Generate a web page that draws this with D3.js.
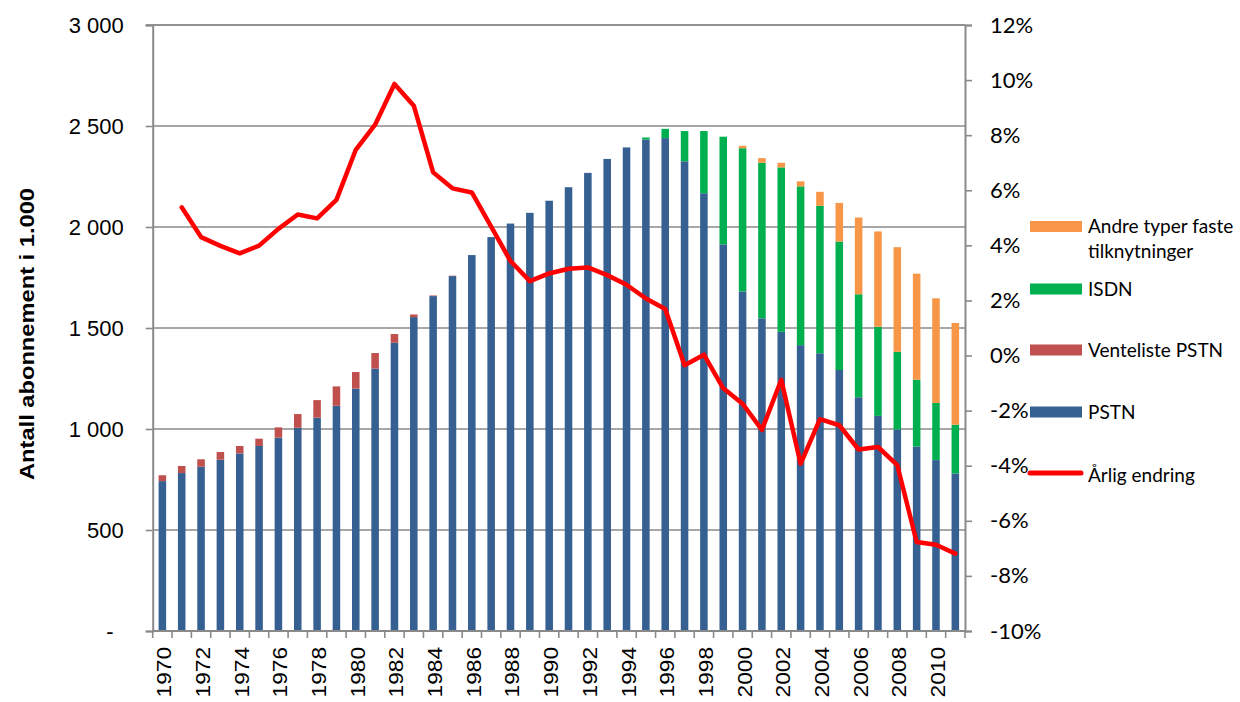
<!DOCTYPE html>
<html><head><meta charset="utf-8">
<script src="https://cdn.jsdelivr.net/npm/d3@7"></script>
<style>
html,body{margin:0;padding:0;background:#fff;}
svg{display:block;}
</style></head>
<body>
<svg id="chart" width="1240" height="702"></svg>
<script>
const years = d3.range(1970, 2012);
const pstn = [742,782,813,848,879,916,957,1006,1056,1115,1200,1299,1427,1554,1658,1757,1861,1950,2017,2070,2130,2197,2268,2337,2394,2433,2440,2325,2167,1914,1681,1548,1481,1415,1375,1292,1157,1065,998,913,846,780];
const venteliste = [29,35,37,38,37,36,51,68,87,96,82,77,43,13,3,2,0,0,0,0,0,0,0,0,0,0,0,0,0,0,0,0,0,0,0,0,0,0,0,0,0,0];
const isdn = [0,0,0,0,0,0,0,0,0,0,0,0,0,0,0,0,0,0,0,0,0,0,0,0,0,10,46,150,308,533,709,770,814,786,730,636,510,441,384,331,283,241];
const andre = [0,0,0,0,0,0,0,0,0,0,0,0,0,0,0,0,0,0,0,0,0,0,0,0,0,0,0,0,0,0,12,23,23,25,69,191,380,472,518,525,518,504];
const change = [null,5.38,4.30,3.98,3.71,3.99,4.60,5.12,4.98,5.65,7.47,8.38,9.86,9.07,6.65,6.07,5.92,4.68,3.43,2.70,2.98,3.15,3.20,2.92,2.57,2.07,1.69,-0.35,0.03,-1.19,-1.75,-2.70,-0.88,-3.93,-2.31,-2.53,-3.41,-3.32,-3.98,-6.77,-6.87,-7.19];
const leftTicks = [0,500,1000,1500,2000,2500,3000];
const rightTicks = [-10,-8,-6,-4,-2,0,2,4,6,8,10,12];
const seriesKeys = ["PSTN","Venteliste PSTN","ISDN","Andre typer faste tilknytninger"];
const seriesColors = {"PSTN":"#376092","Venteliste PSTN":"#C0504D","ISDN":"#00B050","Andre typer faste tilknytninger":"#F79646"};
const lineName = "Årlig endring";
const yTitle = "Antall abonnement i 1.000";

const rows = years.map((y,i)=>({year:y,"PSTN":pstn[i],"Venteliste PSTN":venteliste[i],"ISDN":isdn[i],"Andre typer faste tilknytninger":andre[i]}));

const svg = d3.select("#chart");
const L = 152.7, R = 965, T = 25, B = 631;
const gridC = "#8a8a8a";

const x = d3.scaleBand().domain(years).range([L,R]).padding(0);
const yL = d3.scaleLinear().domain([0,3000]).range([B,T]);
const yR = d3.scaleLinear().domain([-10,12]).range([B,T]);

// gridlines
svg.append("g").selectAll("line").data(leftTicks.filter(d=>d>0)).join("line")
  .attr("x1",L).attr("x2",R).attr("y1",d=>yL(d)).attr("y2",d=>yL(d))
  .attr("stroke",gridC).attr("stroke-width",1.6);

// bars
const stack = d3.stack().keys(seriesKeys)(rows);
const bw = x.bandwidth()*0.39;
const gBars = svg.append("g");
stack.forEach(s=>{
  gBars.append("g").attr("fill",seriesColors[s.key]).selectAll("rect").data(s.filter(d=>d[1]-d[0]>0)).join("rect")
    .attr("x",d=>x(d.data.year)+x.bandwidth()/2-bw/2)
    .attr("width",bw)
    .attr("y",d=>yL(d[1]))
    .attr("height",d=>yL(d[0])-yL(d[1]));
});

// axes
const axC = "#8a8a8a";
const gLeft = svg.append("g").attr("transform",`translate(${L},0)`)
  .call(d3.axisLeft(yL).tickValues(leftTicks).tickSize(7).tickPadding(22)
    .tickFormat(d=>d===0?"-":d3.format(",")(d).replace(/,/g," ")));
gLeft.select(".domain").attr("stroke",axC).attr("stroke-width",2);
gLeft.selectAll(".tick line").attr("stroke",axC).attr("stroke-width",1.6);
gLeft.selectAll("text").attr("font-family","Liberation Sans, Arial, sans-serif").attr("font-size",22).attr("fill","#000");
gLeft.selectAll(".tick").filter(d=>d===0).select("text").attr("dx",-10);

const gRight = svg.append("g").attr("transform",`translate(${R},0)`)
  .call(d3.axisRight(yR).tickValues(rightTicks).tickSize(7).tickPadding(18).tickFormat(d=>d+"%"));
gRight.select(".domain").attr("stroke",axC).attr("stroke-width",2);
gRight.selectAll(".tick line").attr("stroke",axC).attr("stroke-width",1.6);
gRight.selectAll("text").attr("font-family","Lato, 'Open Sans', sans-serif").attr("font-size",22).attr("fill","#000");

// bottom axis
const gBot = svg.append("g").attr("transform",`translate(0,${B})`);
gBot.append("line").attr("x1",L).attr("x2",R).attr("y1",0).attr("y2",0).attr("stroke",axC).attr("stroke-width",2);
gBot.selectAll("line.tk").data(years.concat([2012])).join("line").attr("class","tk")
  .attr("x1",d=>d===2012?R:x(d)).attr("x2",d=>d===2012?R:x(d)).attr("y1",0).attr("y2",7)
  .attr("stroke",axC).attr("stroke-width",1.6);
gBot.selectAll("text").data(years.filter(d=>d%2===0)).join("text")
  .attr("transform",d=>`translate(${x(d)+x.bandwidth()/2+9},16) rotate(-90) scale(1.08,1)`)
  .attr("text-anchor","end")
  .attr("font-family","Liberation Sans, Arial, sans-serif").attr("font-size",21)
  .text(d=>d);

// top gridline at 3000 extends
svg.append("line").attr("x1",L-7).attr("x2",R).attr("y1",yL(3000)).attr("y2",yL(3000)).attr("stroke",gridC).attr("stroke-width",1.6);

// line
const lineGen = d3.line().defined(d=>d.v!==null).x(d=>x(d.year)+x.bandwidth()/2).y(d=>yR(d.v));
svg.append("path").datum(years.map((y,i)=>({year:y,v:change[i]})))
  .attr("d",lineGen).attr("fill","none").attr("stroke","#FF0000").attr("stroke-width",4.5)
  .attr("stroke-linejoin","round").attr("stroke-linecap","round");

// y title
svg.append("text").attr("transform","translate(34,334) rotate(-90)").attr("text-anchor","middle")
  .attr("font-family","Liberation Sans, Arial, sans-serif").attr("font-weight","bold").attr("font-size",20)
  .attr("textLength",292).attr("lengthAdjust","spacingAndGlyphs")
  .text(yTitle);

// legend
const lg = svg.append("g").attr("font-family","Lato, 'Open Sans', sans-serif").attr("font-size",19).attr("fill","#000");
const legItems = [
  {key:"Andre typer faste tilknytninger", lines:["Andre typer faste","tilknytninger"], y:226.5},
  {key:"ISDN", lines:["ISDN"], y:289},
  {key:"Venteliste PSTN", lines:["Venteliste PSTN"], y:350},
  {key:"PSTN", lines:["PSTN"], y:412}
];
legItems.forEach(it=>{
  lg.append("rect").attr("x",1030).attr("y",it.y-5.5).attr("width",52).attr("height",11).attr("fill",seriesColors[it.key]);
  it.lines.forEach((t,j)=>{
    lg.append("text").attr("x",1088).attr("y",it.y+j*25).attr("dy","0.35em").text(t);
  });
});
lg.append("line").attr("x1",1030).attr("x2",1081).attr("y1",473).attr("y2",473).attr("stroke","#FF0000").attr("stroke-width",5).attr("stroke-linecap","round");
lg.append("text").attr("x",1088).attr("y",475).attr("dy","0.35em").text(lineName);
</script>
</body></html>
